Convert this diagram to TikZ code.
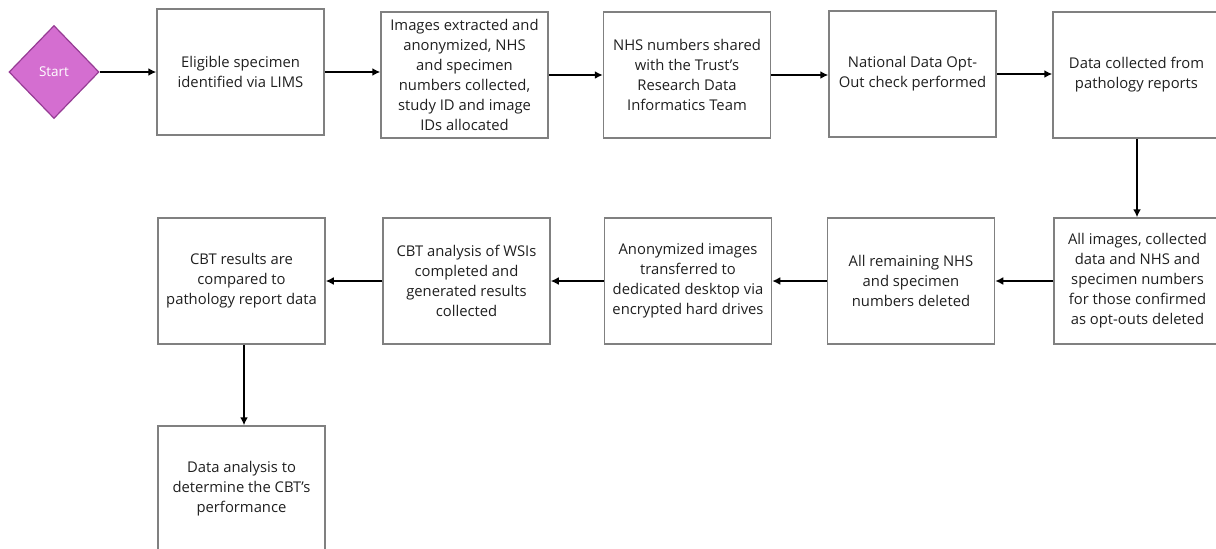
\documentclass[tikz,border=0pt]{standalone}
\usepackage{fontspec}
\setmainfont{Open Sans}
\usetikzlibrary{shapes.geometric,arrows.meta}
\definecolor{boxgray}{HTML}{808080}
\definecolor{txt}{HTML}{1F1F1F}
\definecolor{startfill}{HTML}{D46ED0}
\definecolor{startline}{HTML}{963C94}
\begin{document}
\begin{tikzpicture}[x=1pt,y=-1pt,
  box/.style={draw=boxgray,line width=1.5pt,minimum width=167pt,minimum height=126pt,
    inner sep=2pt,align=center,text=txt,font=\fontsize{14.8}{20}\selectfont},
  startnode/.style={diamond,draw=startline,fill=startfill,line width=1.2pt,
    minimum width=90pt,minimum height=93pt,inner sep=0pt,text=white,font=\fontsize{13.5}{14}\selectfont},
  go/.style={-{Latex[length=8pt,width=8pt]},line width=1.7pt}]
\useasboundingbox (0,0) rectangle (1216,549);
% first row
\node[startnode](start) at (54,72){Start};
\node[box](b1) at (240.5,72){Eligible specimen\\identified via LIMS};
\node[box](b2) at (464.5,75){Images extracted and\\anonymized, NHS\\and specimen\\numbers collected,\\study ID and image\\IDs allocated};
\node[box](b3) at (687,75){NHS numbers shared\\with the Trust’s\\Research Data\\Informatics Team};
\node[box](b4) at (912.5,74){National Data Opt-\\Out check performed};
\node[box](b5) at (1136.5,75){Data collected from\\pathology reports};
% second row, right to left
\node[box](b6) at (1137.5,281){All images, collected\\data and NHS and\\specimen numbers\\for those confirmed\\as opt-outs deleted};
\node[box](b7) at (911,281){All remaining NHS\\and specimen\\numbers deleted};
\node[box](b8) at (688,281){Anonymized images\\transferred to\\dedicated desktop via\\encrypted hard drives};
\node[box](b9) at (466.5,281){CBT analysis of WSIs\\completed and\\generated results\\collected};
\node[box](b10) at (241.5,281){CBT results are\\compared to\\pathology report data};
\node[box](b11) at (241.5,489){Data analysis to\\determine the CBT’s\\performance};
% connectors
\draw[go](start)--(b1);
\draw[go](b1.east)--(b1.east-|b2.west);
\draw[go](b2)--(b3);
\draw[go](b3.east)--(b3.east-|b4.west);
\draw[go](b4.east)--(b4.east-|b5.west);
\draw[go](b5.south-|1137,0)--(b6.north-|1137,0);
\draw[go](b6)--(b7);
\draw[go](b7)--(b8);
\draw[go](b8)--(b9);
\draw[go](b9)--(b10);
\draw[go](b10.south-|244,0)--(b11.north-|244,0);
\end{tikzpicture}
\end{document}
